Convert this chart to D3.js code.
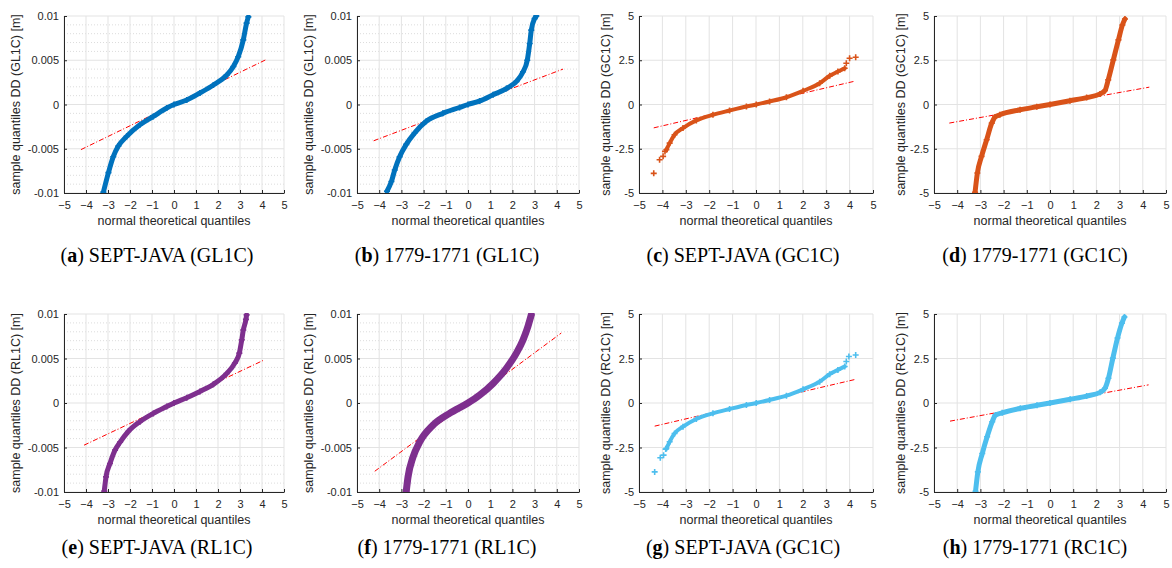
<!DOCTYPE html>
<html>
<head>
<meta charset="utf-8">
<script src="https://cdn.jsdelivr.net/npm/d3@7"></script>
<style>
body { margin: 0; background: #fff; }
svg { display: block; }
</style>
</head>
<body>
<svg id="wykres"></svg>
<script>
// ticks and labels
const xTicks = [-5, -4, -3, -2, -1, 0, 1, 2, 3, 4, 5];
const yTicksM = [-0.01, -0.005, 0, 0.005, 0.01];
const yTickLabelsM = ['-0.01', '-0.005', '0', '0.005', '0.01'];
const yMinorM = [-0.009, -0.008, -0.007, -0.006, -0.004, -0.003, -0.002, -0.001,
  0.001, 0.002, 0.003, 0.004, 0.006, 0.007, 0.008, 0.009];
const yTicksC = [-5, -2.5, 0, 2.5, 5];
const yTickLabelsC = ['-5', '-2.5', '0', '2.5', '5'];
const xLabel = 'normal theoretical quantiles';
const yLabels = ['sample quantiles DD (GL1C) [m]', 'sample quantiles DD (GL1C) [m]',
  'sample quantiles DD (GC1C) [m]', 'sample quantiles DD (GC1C) [m]',
  'sample quantiles DD (RL1C) [m]', 'sample quantiles DD (RL1C) [m]',
  'sample quantiles DD (RC1C) [m]', 'sample quantiles DD (RC1C) [m]'];
const captionLetters = ['a', 'b', 'c', 'd', 'e', 'f', 'g', 'h'];
const captionTexts = ['SEPT-JAVA (GL1C)', '1779-1771 (GL1C)', 'SEPT-JAVA (GC1C)', '1779-1771 (GC1C)',
  'SEPT-JAVA (RL1C)', '1779-1771 (RL1C)', 'SEPT-JAVA (GC1C)', '1779-1771 (RC1C)'];

// (a) SEPT-JAVA GL1C
const aX = [-3.21, -2.98, -2.76, -2.53, -2.15, -1.55, -0.94, -0.33, 0, 0.58, 1.18, 1.79, 2.39, 2.7, 2.92, 3.15, 3.3, 3.38];
const aY = [-0.0099, -0.0077, -0.0059, -0.0047, -0.0036, -0.0023, -0.00135, -0.0004, 0, 0.0005, 0.0013, 0.0022, 0.0033, 0.0043, 0.0054, 0.0073, 0.0092, 0.0099];
const aRef = [[-4.23, -0.0051], [4.21, 0.0051]];
// (b) 1779-1771 GL1C
const bX = [-3.65, -3.45, -3.3, -3.08, -2.78, -2.4, -1.88, -1.13, -0.38, 0, 0.53, 1.13, 1.73, 2.18, 2.48, 2.67, 2.78, 2.85, 3.0, 3.08];
const bY = [-0.0098, -0.0087, -0.0074, -0.0059, -0.0045, -0.0032, -0.0019, -0.001, -0.00034, 0, 0.0004, 0.0011, 0.0018, 0.0026, 0.0037, 0.005, 0.0069, 0.0084, 0.0097, 0.01];
const bRef = [[-4.25, -0.0041], [4.28, 0.004]];
// (c) SEPT-JAVA GC1C
const cX = [-3.83, -3.69, -3.48, -3.12, -2.55, -1.84, -1.13, -0.41, 0.01, 0.58, 1.3, 2.01, 2.72, 3.15, 3.5, 3.79];
const cY = [-2.56, -2.18, -1.71, -1.33, -0.9, -0.58, -0.34, -0.11, 0, 0.17, 0.41, 0.77, 1.2, 1.62, 1.86, 2.05];
const cTailX = [-4.37, -4.12, -3.97, -3.89, 3.86, 4.0, 4.26];
const cTailY = [-3.89, -3.12, -2.93, -2.65, 2.33, 2.61, 2.67];
const cRef = [[-4.37, -1.32], [4.23, 1.32]];
// (d) 1779-1771 GC1C
const dX = [-3.23, -3.13, -2.95, -2.73, -2.51, -2.37, -2.16, -1.29, -0.57, 0, 0.86, 1.58, 2.16, 2.37, 2.51, 2.73, 2.95, 3.12, 3.23];
const dY = [-4.96, -3.87, -2.93, -1.99, -1.05, -0.71, -0.58, -0.3, -0.13, 0, 0.21, 0.39, 0.6, 0.79, 1.39, 2.52, 3.65, 4.49, 4.83];
const dRef = [[-4.34, -1.05], [4.28, 0.98]];
// (e) SEPT-JAVA RL1C
const eX = [-3.17, -3.09, -2.91, -2.68, -2.45, -2.08, -1.55, -0.94, -0.33, 0, 0.58, 1.18, 1.79, 2.39, 2.77, 2.97, 3.08, 3.15, 3.27, 3.3];
const eY = [-0.0099, -0.0083, -0.0068, -0.0053, -0.0044, -0.0032, -0.0021, -0.00117, -0.0004, 0, 0.0006, 0.0013, 0.0021, 0.0033, 0.0045, 0.0056, 0.0071, 0.0082, 0.0094, 0.0099];
const eRef = [[-4.09, -0.00474], [4.11, 0.00485]];
// (f) 1779-1771 RL1C
const fX = [-2.78, -2.7, -2.48, -2.18, -1.58, -0.83, 0, 0.53, 1.13, 1.73, 2.18, 2.48, 2.7, 2.85];
const fY = [-0.0099, -0.0083, -0.0061, -0.0044, -0.0025, -0.00117, 0, 0.0009, 0.0022, 0.0039, 0.0056, 0.0071, 0.0086, 0.0099];
const fRef = [[-4.2, -0.00767], [4.2, 0.00786]];
// (g) SEPT-JAVA RC1C
const gX = [-3.83, -3.69, -3.48, -3.12, -2.55, -1.84, -1.13, -0.41, 0.01, 0.58, 1.3, 2.01, 2.72, 3.15, 3.5, 3.79];
const gY = [-2.56, -2.18, -1.71, -1.33, -0.9, -0.58, -0.34, -0.11, 0, 0.17, 0.41, 0.77, 1.2, 1.62, 1.86, 2.05];
const gTailX = [-4.33, -4.09, -3.95, -3.86, 3.86, 3.97, 4.26];
const gTailY = [-3.87, -3.08, -2.93, -2.59, 2.33, 2.61, 2.7];
const gRef = [[-4.33, -1.3], [4.26, 1.33]];
// (h) 1779-1771 RC1C
const hX = [-3.21, -3.11, -2.92, -2.71, -2.49, -2.35, -2.06, -1.28, -0.56, 0, 0.87, 1.58, 2.16, 2.37, 2.52, 2.71, 2.91, 3.1, 3.21];
const hY = [-4.96, -3.87, -2.84, -1.9, -1.05, -0.68, -0.55, -0.3, -0.13, 0, 0.21, 0.39, 0.6, 0.83, 1.39, 2.52, 3.65, 4.49, 4.83];
const hRef = [[-4.31, -1.02], [4.25, 1.02]];

// kolory MATLAB
const niebieski = '#0072bd', pomarancz = '#d95319', fiolet = '#7e2f8e', blekit = '#4dbeee';

// uklad paneli
const kolumny = [[64, 284], [357, 579], [639, 873], [934, 1166]];
const wiersze = [[16, 193], [314, 492]];
const podpisX = [157, 447, 743, 1035];
const podpisY = [262, 554];

const panele = [
  { x: aX, y: aY, ref: aRef, kolor: niebieski, m: true, gr: 5 },
  { x: bX, y: bY, ref: bRef, kolor: niebieski, m: true, gr: 5 },
  { x: cX, y: cY, tx: cTailX, ty: cTailY, ref: cRef, kolor: pomarancz, m: false, gr: 4 },
  { x: dX, y: dY, ref: dRef, kolor: pomarancz, m: false, gr: 5 },
  { x: eX, y: eY, ref: eRef, kolor: fiolet, m: true, gr: 5 },
  { x: fX, y: fY, ref: fRef, kolor: fiolet, m: true, gr: 7 },
  { x: gX, y: gY, tx: gTailX, ty: gTailY, ref: gRef, kolor: blekit, m: false, gr: 4 },
  { x: hX, y: hY, ref: hRef, kolor: blekit, m: false, gr: 5 }
];

const svg = d3.select('#wykres').attr('width', 1172).attr('height', 568);
const czcionka = '"Liberation Sans", Arial, Helvetica, sans-serif';
const plus = 'M-3,0H3M0,-3V3';

panele.forEach(function(p, i) {
  const kol = i % 4, wie = Math.floor(i / 4);
  const [x0, x1] = kolumny[kol];
  const [y0, y1] = wiersze[wie];

  const x = d3.scaleLinear().domain([-5, 5]).range([x0, x1]);
  const y = d3.scaleLinear().domain(p.m ? [-0.01, 0.01] : [-5, 5]).range([y1, y0]);
  const yT = p.m ? yTicksM : yTicksC;
  const yL = p.m ? yTickLabelsM : yTickLabelsC;

  const g = svg.append('g');

  // siatka pomocnicza (kropkowana)
  if (p.m) {
    g.selectAll('.minor').data(yMinorM).enter().append('line')
      .attr('x1', x0).attr('x2', x1)
      .attr('y1', d => y(d)).attr('y2', d => y(d))
      .attr('stroke', '#dcdcdc').attr('stroke-width', 1)
      .attr('stroke-dasharray', '1,2');
  }
  // siatka glowna
  g.selectAll('.gx').data(xTicks).enter().append('line')
    .attr('x1', d => x(d)).attr('x2', d => x(d))
    .attr('y1', y0).attr('y2', y1)
    .attr('stroke', '#e3e3e3').attr('stroke-width', 1);
  g.selectAll('.gy').data(yT).enter().append('line')
    .attr('x1', x0).attr('x2', x1)
    .attr('y1', d => y(d)).attr('y2', d => y(d))
    .attr('stroke', '#e3e3e3').attr('stroke-width', 1);

  // clip
  const clipId = 'clip' + i;
  svg.append('clipPath').attr('id', clipId)
    .append('rect').attr('x', x0 - 1).attr('y', y0 - 1)
    .attr('width', x1 - x0 + 2).attr('height', y1 - y0 + 2);

  const dane = g.append('g').attr('clip-path', 'url(#' + clipId + ')');
  const punkty = p.x.map((v, j) => [v, p.y[j]]);

  // linia odniesienia (pod danymi)
  dane.append('path')
    .datum(p.ref)
    .attr('d', d3.line().x(d => x(d[0])).y(d => y(d[1])))
    .attr('fill', 'none')
    .attr('stroke', '#ff0000')
    .attr('stroke-width', 1)
    .attr('stroke-dasharray', '5,2,1,2');

  const linia = d3.line()
    .x(d => x(d[0]))
    .y(d => y(d[1]))
    .curve(d3.curveMonotoneX);

  dane.append('path')
    .datum(punkty)
    .attr('d', linia)
    .attr('fill', 'none')
    .attr('stroke', p.kolor)
    .attr('stroke-width', p.gr)
    .attr('stroke-linecap', 'round')
    .attr('stroke-linejoin', 'round');

  dane.selectAll('.pt').data(punkty).enter().append('path')
    .attr('transform', d => 'translate(' + x(d[0]) + ',' + y(d[1]) + ')')
    .attr('d', plus)
    .attr('stroke', p.kolor).attr('stroke-width', 1.6).attr('fill', 'none');

  if (p.tx) {
    const ogon = p.tx.map((v, j) => [v, p.ty[j]]);
    dane.selectAll('.tail').data(ogon).enter().append('path')
      .attr('transform', d => 'translate(' + x(d[0]) + ',' + y(d[1]) + ')')
      .attr('d', plus)
      .attr('stroke', p.kolor).attr('stroke-width', 1.6).attr('fill', 'none');
  }

  // osie
  const xAxis = d3.axisBottom(x).tickValues(xTicks).tickFormat(d3.format('d'))
    .tickSizeInner(-3).tickSizeOuter(0).tickPadding(8);
  const yAxis = d3.axisLeft(y).tickValues(yT).tickFormat((d, j) => yL[j])
    .tickSizeInner(-3).tickSizeOuter(0).tickPadding(5);

  const gx = g.append('g').attr('transform', 'translate(0,' + y1 + ')').call(xAxis);
  const gy = g.append('g').attr('transform', 'translate(' + x0 + ',0)').call(yAxis);
  [gx, gy].forEach(function(a) {
    a.selectAll('path').attr('stroke', '#262626');
    a.selectAll('line').attr('stroke', '#262626');
    a.selectAll('text').attr('fill', '#262626')
      .style('font-family', czcionka).style('font-size', '11px');
  });

  // opisy osi
  g.append('text')
    .attr('x', (x0 + x1) / 2).attr('y', y1 + 32)
    .attr('text-anchor', 'middle')
    .style('font-family', czcionka).style('font-size', '12.5px')
    .attr('fill', '#262626')
    .text(xLabel);

  const ly = (y0 + y1) / 2;
  const lx = x0 - (p.m ? 44 : 29);
  g.append('text')
    .attr('transform', 'translate(' + lx + ',' + ly + ') rotate(-90)')
    .attr('text-anchor', 'middle')
    .style('font-family', czcionka).style('font-size', '12.5px')
    .attr('fill', '#262626')
    .text(yLabels[i]);

  // podpis
  const t = svg.append('text')
    .attr('x', podpisX[kol]).attr('y', podpisY[wie])
    .attr('text-anchor', 'middle')
    .style('font-family', '"Liberation Serif", "Times New Roman", serif')
    .style('font-size', '20px')
    .attr('fill', '#000');
  t.append('tspan').text('(');
  t.append('tspan').attr('font-weight', 'bold').text(captionLetters[i]);
  t.append('tspan').text(') ' + captionTexts[i]);
});
</script>
</body>
</html>
